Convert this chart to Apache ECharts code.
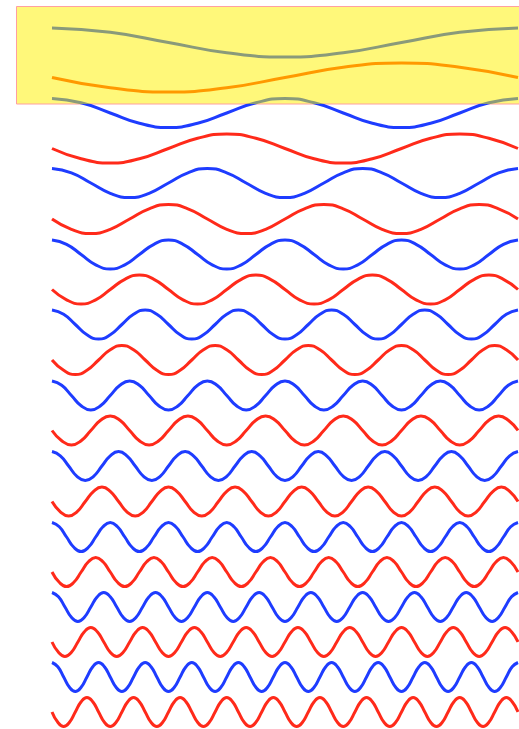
<!DOCTYPE html>
<html><head><meta charset="utf-8">
<script src="https://cdn.jsdelivr.net/npm/echarts@6/dist/echarts.min.js"></script>
<style>html,body{margin:0;padding:0;background:#fff}#main{width:519px;height:729px}</style>
</head><body><div id="main"></div>
<script>
// Each wave: y readings (pixel-like units, top = 0) sampled every eighth of a period, left to right
const wave0 = [28,32.3,42.5,52.8,57,52.8,42.5,32.3,28];
const wave1 = [77.5,87.8,92,87.8,77.5,67.3,63,67.3,77.5];
const wave2 = [
  98.5,102.8,113,123.3,127.5,123.3,113,102.8,
  98.5,102.8,113,123.3,127.5,123.3,113,102.8,
  98.5];
const wave3 = [
  148.5,158.8,163,158.8,148.5,138.3,134,138.3,
  148.5,158.8,163,158.8,148.5,138.3,134,138.3,
  148.5];
const wave4 = [
  168.5,172.8,183,193.3,197.5,193.3,183,172.8,
  168.5,172.8,183,193.3,197.5,193.3,183,172.8,
  168.5,172.8,183,193.3,197.5,193.3,183,172.8,
  168.5];
const wave5 = [
  219,229.3,233.5,229.3,219,208.8,204.5,208.8,
  219,229.3,233.5,229.3,219,208.8,204.5,208.8,
  219,229.3,233.5,229.3,219,208.8,204.5,208.8,
  219];
const wave6 = [
  240,244.3,254.5,264.8,269,264.8,254.5,244.3,
  240,244.3,254.5,264.8,269,264.8,254.5,244.3,
  240,244.3,254.5,264.8,269,264.8,254.5,244.3,
  240,244.3,254.5,264.8,269,264.8,254.5,244.3,
  240];
const wave7 = [
  289.5,299.8,304,299.8,289.5,279.3,275,279.3,
  289.5,299.8,304,299.8,289.5,279.3,275,279.3,
  289.5,299.8,304,299.8,289.5,279.3,275,279.3,
  289.5,299.8,304,299.8,289.5,279.3,275,279.3,
  289.5];
const wave8 = [
  310,314.3,324.5,334.8,339,334.8,324.5,314.3,
  310,314.3,324.5,334.8,339,334.8,324.5,314.3,
  310,314.3,324.5,334.8,339,334.8,324.5,314.3,
  310,314.3,324.5,334.8,339,334.8,324.5,314.3,
  310,314.3,324.5,334.8,339,334.8,324.5,314.3,
  310];
const wave9 = [
  360,370.3,374.5,370.3,360,349.8,345.5,349.8,
  360,370.3,374.5,370.3,360,349.8,345.5,349.8,
  360,370.3,374.5,370.3,360,349.8,345.5,349.8,
  360,370.3,374.5,370.3,360,349.8,345.5,349.8,
  360,370.3,374.5,370.3,360,349.8,345.5,349.8,
  360];
const wave10 = [
  381,385.3,395.5,405.8,410,405.8,395.5,385.3,
  381,385.3,395.5,405.8,410,405.8,395.5,385.3,
  381,385.3,395.5,405.8,410,405.8,395.5,385.3,
  381,385.3,395.5,405.8,410,405.8,395.5,385.3,
  381,385.3,395.5,405.8,410,405.8,395.5,385.3,
  381,385.3,395.5,405.8,410,405.8,395.5,385.3,
  381];
const wave11 = [
  430.5,440.8,445,440.8,430.5,420.3,416,420.3,
  430.5,440.8,445,440.8,430.5,420.3,416,420.3,
  430.5,440.8,445,440.8,430.5,420.3,416,420.3,
  430.5,440.8,445,440.8,430.5,420.3,416,420.3,
  430.5,440.8,445,440.8,430.5,420.3,416,420.3,
  430.5,440.8,445,440.8,430.5,420.3,416,420.3,
  430.5];
const wave12 = [
  451.5,455.8,466,476.3,480.5,476.3,466,455.8,
  451.5,455.8,466,476.3,480.5,476.3,466,455.8,
  451.5,455.8,466,476.3,480.5,476.3,466,455.8,
  451.5,455.8,466,476.3,480.5,476.3,466,455.8,
  451.5,455.8,466,476.3,480.5,476.3,466,455.8,
  451.5,455.8,466,476.3,480.5,476.3,466,455.8,
  451.5,455.8,466,476.3,480.5,476.3,466,455.8,
  451.5];
const wave13 = [
  501.5,511.8,516,511.8,501.5,491.3,487,491.3,
  501.5,511.8,516,511.8,501.5,491.3,487,491.3,
  501.5,511.8,516,511.8,501.5,491.3,487,491.3,
  501.5,511.8,516,511.8,501.5,491.3,487,491.3,
  501.5,511.8,516,511.8,501.5,491.3,487,491.3,
  501.5,511.8,516,511.8,501.5,491.3,487,491.3,
  501.5,511.8,516,511.8,501.5,491.3,487,491.3,
  501.5];
const wave14 = [
  522.5,526.8,537,547.3,551.5,547.3,537,526.8,
  522.5,526.8,537,547.3,551.5,547.3,537,526.8,
  522.5,526.8,537,547.3,551.5,547.3,537,526.8,
  522.5,526.8,537,547.3,551.5,547.3,537,526.8,
  522.5,526.8,537,547.3,551.5,547.3,537,526.8,
  522.5,526.8,537,547.3,551.5,547.3,537,526.8,
  522.5,526.8,537,547.3,551.5,547.3,537,526.8,
  522.5,526.8,537,547.3,551.5,547.3,537,526.8,
  522.5];
const wave15 = [
  572,582.3,586.5,582.3,572,561.8,557.5,561.8,
  572,582.3,586.5,582.3,572,561.8,557.5,561.8,
  572,582.3,586.5,582.3,572,561.8,557.5,561.8,
  572,582.3,586.5,582.3,572,561.8,557.5,561.8,
  572,582.3,586.5,582.3,572,561.8,557.5,561.8,
  572,582.3,586.5,582.3,572,561.8,557.5,561.8,
  572,582.3,586.5,582.3,572,561.8,557.5,561.8,
  572,582.3,586.5,582.3,572,561.8,557.5,561.8,
  572];
const wave16 = [
  592.5,596.8,607,617.3,621.5,617.3,607,596.8,
  592.5,596.8,607,617.3,621.5,617.3,607,596.8,
  592.5,596.8,607,617.3,621.5,617.3,607,596.8,
  592.5,596.8,607,617.3,621.5,617.3,607,596.8,
  592.5,596.8,607,617.3,621.5,617.3,607,596.8,
  592.5,596.8,607,617.3,621.5,617.3,607,596.8,
  592.5,596.8,607,617.3,621.5,617.3,607,596.8,
  592.5,596.8,607,617.3,621.5,617.3,607,596.8,
  592.5,596.8,607,617.3,621.5,617.3,607,596.8,
  592.5];
const wave17 = [
  642,652.3,656.5,652.3,642,631.8,627.5,631.8,
  642,652.3,656.5,652.3,642,631.8,627.5,631.8,
  642,652.3,656.5,652.3,642,631.8,627.5,631.8,
  642,652.3,656.5,652.3,642,631.8,627.5,631.8,
  642,652.3,656.5,652.3,642,631.8,627.5,631.8,
  642,652.3,656.5,652.3,642,631.8,627.5,631.8,
  642,652.3,656.5,652.3,642,631.8,627.5,631.8,
  642,652.3,656.5,652.3,642,631.8,627.5,631.8,
  642,652.3,656.5,652.3,642,631.8,627.5,631.8,
  642];
const wave18 = [
  662.5,666.8,677,687.3,691.5,687.3,677,666.8,
  662.5,666.8,677,687.3,691.5,687.3,677,666.8,
  662.5,666.8,677,687.3,691.5,687.3,677,666.8,
  662.5,666.8,677,687.3,691.5,687.3,677,666.8,
  662.5,666.8,677,687.3,691.5,687.3,677,666.8,
  662.5,666.8,677,687.3,691.5,687.3,677,666.8,
  662.5,666.8,677,687.3,691.5,687.3,677,666.8,
  662.5,666.8,677,687.3,691.5,687.3,677,666.8,
  662.5,666.8,677,687.3,691.5,687.3,677,666.8,
  662.5,666.8,677,687.3,691.5,687.3,677,666.8,
  662.5];
const wave19 = [
  712,722.3,726.5,722.3,712,701.8,697.5,701.8,
  712,722.3,726.5,722.3,712,701.8,697.5,701.8,
  712,722.3,726.5,722.3,712,701.8,697.5,701.8,
  712,722.3,726.5,722.3,712,701.8,697.5,701.8,
  712,722.3,726.5,722.3,712,701.8,697.5,701.8,
  712,722.3,726.5,722.3,712,701.8,697.5,701.8,
  712,722.3,726.5,722.3,712,701.8,697.5,701.8,
  712,722.3,726.5,722.3,712,701.8,697.5,701.8,
  712,722.3,726.5,722.3,712,701.8,697.5,701.8,
  712,722.3,726.5,722.3,712,701.8,697.5,701.8,
  712];

const waves = [wave0,wave1,wave2,wave3,wave4,wave5,wave6,wave7,wave8,wave9,
               wave10,wave11,wave12,wave13,wave14,wave15,wave16,wave17,wave18,wave19];

const BLUE = '#1e3cff', RED = '#ff2a1a', GRAY = '#8a9a7a', ORANGE = '#ff9900';
const BOX_BOTTOM = 104;   // lower edge of the highlighted band
const CHART_H = 729;

// wave 2 is gray inside the highlighted band and blue below it
const splitColor = {
  type: 'linear', x: 0, y: 0, x2: 0, y2: CHART_H, global: true,
  colorStops: [
    {offset: 0, color: GRAY},
    {offset: BOX_BOTTOM / CHART_H, color: GRAY},
    {offset: BOX_BOTTOM / CHART_H, color: BLUE},
    {offset: 1, color: BLUE}
  ]
};
const waveColors = waves.map((w, i) =>
  i === 0 ? GRAY : i === 1 ? ORANGE : i === 2 ? splitColor : (i % 2 === 0 ? BLUE : RED));

const chart = echarts.init(document.getElementById('main'), null, {renderer: 'canvas'});
const series = waves.map((w, i) => ({
  type: 'line',
  data: w.map((v, k) => [k / (w.length - 1), v]),
  smooth: true,
  symbol: 'none',
  showSymbol: false,
  lineStyle: {width: 3, color: waveColors[i]},
  itemStyle: {color: i === 2 ? BLUE : waveColors[i]},
  z: 3
}));

chart.setOption({
  animation: false,
  grid: {left: 52, right: 1, top: 0, bottom: 0},
  xAxis: {type: 'value', min: 0, max: 1, show: false},
  yAxis: {type: 'value', min: 0, max: CHART_H, inverse: true, show: false},
  graphic: [{
    type: 'rect', z: 0,
    shape: {x: 16.5, y: 6.5, width: 620, height: 97.5},
    style: {fill: '#fff87a', stroke: '#ffa0a0', lineWidth: 1}
  }],
  series: series
});
</script>
</body></html>
